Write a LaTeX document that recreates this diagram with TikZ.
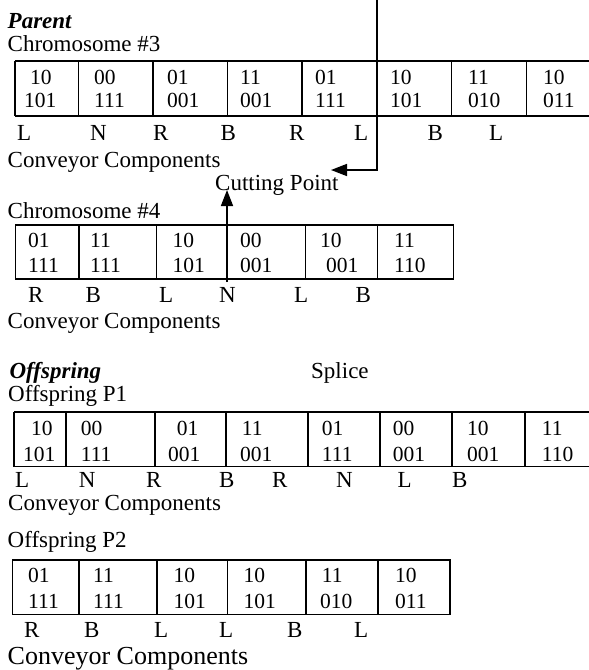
\documentclass[tikz,border=0pt]{standalone}
\usepackage{fontspec}
\setmainfont{Liberation Serif}
\usetikzlibrary{arrows.meta}
\begin{document}
\begin{tikzpicture}[x=1pt,y=-1pt,
  txt/.style={anchor=base west,inner sep=0pt,font=\fontsize{23}{27}\selectfont},
  cell/.style={anchor=base west,inner sep=0pt,font=\fontsize{21.5}{26}\selectfont},
  big/.style={txt,font=\fontsize{26}{30}\selectfont},
  hd/.style={anchor=base west,inner sep=0pt,font=\fontsize{23}{27}\selectfont\bfseries\itshape},
  box/.style={line width=1.1pt},
  cutline/.style={line width=1.6pt},
  arr/.style={line width=1.6pt,-{Triangle[length=16pt,width=12pt]}}]
\useasboundingbox (0,0) rectangle (589,670);

% ---------- Parent ----------
\node[hd] (parent) at (7.5,28) {Parent};
\node[txt] (chr3) at (7.5,51) {Chromosome \#3};

% row 1 box
\draw[box] (15,61) -- (600,61) (15,116) -- (600,116);
\foreach \x in {15,78.7,153,227.6,302,376.8,451.8,526.8}
  \draw[box] (\x,61) -- (\x,116);
\foreach \xa/\xb/\a/\b [count=\i] in {30/24/10/101,94/94/00/111,167/167/01/001,240/240/11/001,315/315/01/111,390/390/10/101,468/468/11/010,543/543/10/011}{
  \node[cell] (ra\i) at (\xa,84) {\a};
  \node[cell] (rb\i) at (\xb,107) {\b};}
\foreach \x/\l [count=\i] in {17/L,90/N,153/R,220.5/B,289/R,354/L,427.5/B,489/L}
  \node[txt] (rl\i) at (\x,140) {\l};
\node[txt] (cc1) at (7.5,167) {Conveyor Components};

% cutting point
\coordinate (cutTop) at (377,-2);
\coordinate (cutCorner) at (377,171);
\coordinate (cutTip) at (331,170);
\draw[cutline] (cutTop) -- (cutCorner);
\draw[arr] (377,170) -- (cutTip);
\node[txt] (cp) at (215,190) {Cutting Point};

\node[txt] (chr4) at (7.5,218) {Chromosome \#4};
% row 2 box
\draw[box] (15.7,225) rectangle (453.7,279);
\foreach \x in {79,156.7,227,305.6,377.6}
  \draw[box] (\x,225) -- (\x,279);
\foreach \xa/\xb/\a/\b [count=\i] in {28/28/01/111,90/90/11/111,172.5/172.5/10/101,240/240/00/001,320/326/10/001,394/394/11/110}{
  \node[cell] (sa\i) at (\xa,247) {\a};
  \node[cell] (sb\i) at (\xb,272) {\b};}
\foreach \x/\l [count=\i] in {28/R,85.5/B,159/L,219/N,294/L,355.5/B}
  \node[txt] (sl\i) at (\x,302) {\l};
\node[txt] (cc2) at (7.5,328) {Conveyor Components};

\coordinate (upBase) at (227,282);
\coordinate (upTip) at (227,190);
\draw[arr] (upBase) -- (upTip);

% ---------- Offspring ----------
\node[hd] (offs) at (9.4,378) {Offspring};
\node[txt] (splice) at (311,378) {Splice};
\node[txt] (p1) at (8,401) {Offspring P1};
\draw[box] (14,412) -- (600,412) (14,466.5) -- (600,466.5);
\foreach \x in {14,66,155,226,308,380,452,525}
  \draw[box] (\x,412) -- (\x,466.5);
\foreach \xa/\xb/\a/\b [count=\i] in {31/23/10/101,80.6/80.6/00/111,176.7/168/01/001,241.7/240/11/001,321.7/321.7/01/111,392.7/392.7/00/001,467/467/10/001,541.7/541.7/11/110}{
  \node[cell] (ta\i) at (\xa,435) {\a};
  \node[cell] (tb\i) at (\xb,461) {\b};}
\foreach \x/\l [count=\i] in {15/L,78.7/N,146/R,219/B,272/R,336/N,397.5/L,452/B}
  \node[txt] (tl\i) at (\x,487) {\l};
\node[txt] (cc3) at (8,510) {Conveyor Components};

\node[txt] (p2) at (7.5,547) {Offspring P2};
\draw[box] (12.4,560) rectangle (450,614.5);
\foreach \x in {79,157,227.7,306,378}
  \draw[box] (\x,560) -- (\x,614.5);
\foreach \xa/\xb/\a/\b [count=\i] in {28/28/01/111,93/93/11/111,173.3/173.3/10/101,243.3/243.3/10/101,321.7/320/11/010,395/395/10/011}{
  \node[cell] (ua\i) at (\xa,582) {\a};
  \node[cell] (ub\i) at (\xb,608) {\b};}
\foreach \x/\l [count=\i] in {24/R,84/B,154/L,219/L,287/B,354/L}
  \node[txt] (ul\i) at (\x,637) {\l};
\node[big] (cc4) at (7.5,664) {Conveyor Components};
\end{tikzpicture}
\end{document}
